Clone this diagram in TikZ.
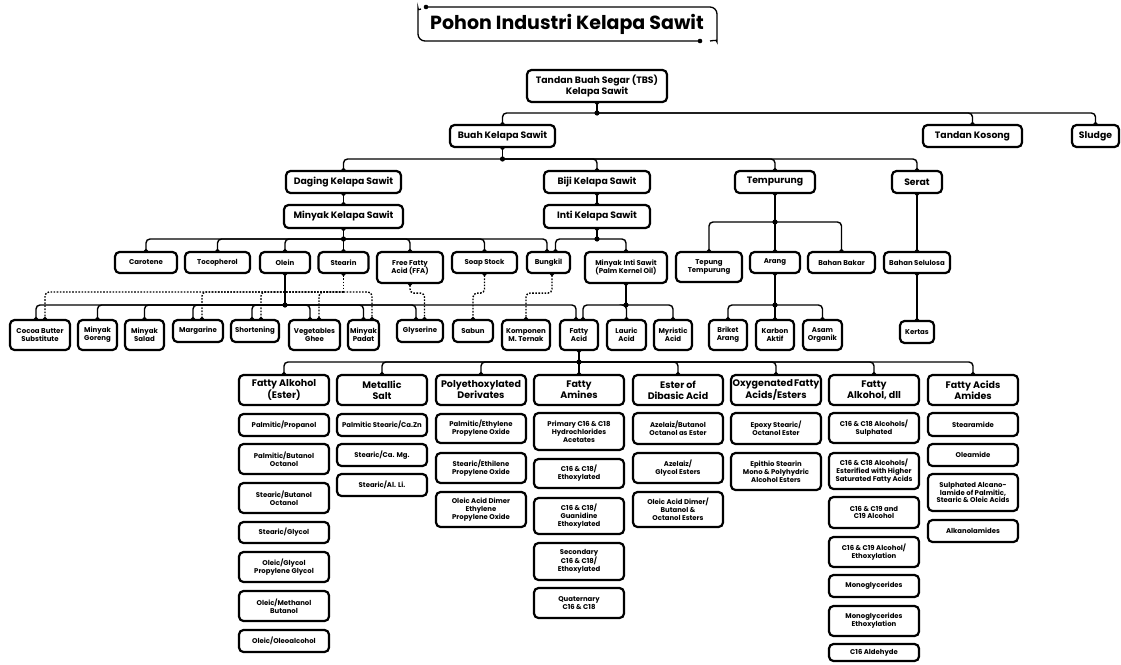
\documentclass[tikz,border=0pt]{standalone}
\usepackage{fontspec}
\setmainfont{Poppins}
\usetikzlibrary{arrows.meta}
% box from corners (x1,y1)-(x2,y2)
\newcommand\bxnode[7][bx]{\node[#1,minimum width={#5-#3},minimum height={#6-#4}] (#2) at ({(#3+#5)/2},{(#4+#6)/2}) {#7};}
\begin{document}
\begin{tikzpicture}[x=1pt,y=-1pt,
  bx/.style={draw=black, line width=2.2pt, rounded corners=4.5pt, fill=white, inner sep=0pt, align=center,
    font=\bfseries\fontsize{9.3}{11}\selectfont},
  sm/.style={bx, font=\bfseries\fontsize{7}{8.3}\selectfont},
  sub/.style={bx, font=\bfseries\fontsize{6.9}{7.8}\selectfont},
  cat/.style={bx, font=\bfseries\fontsize{9.5}{11}\selectfont},
  ln/.style={line width=1.4pt, rounded corners=4pt},
  dl/.style={ln, dash pattern=on 1.6pt off 1.5pt},
  tipE/.style={-{Circle[length=3.6pt]}, shorten >=-1.7pt},
  tipS/.style={{Circle[length=3.6pt]}-, shorten <=-1.7pt},
  tipB/.style={{Circle[length=3.6pt]}-{Circle[length=3.6pt]}, shorten <=-1.7pt, shorten >=-1.7pt},
]
\useasboundingbox (0,0) rectangle (1121,664);

% ---------- title ----------
\node[font=\bfseries\fontsize{19}{21}\selectfont, inner sep=0pt] (title) at (567,24) {Pohon Industri Kelapa Sawit};
\coordinate (tl) at (426,7);
\coordinate (br) at (700,41);
\draw[line width=1.3pt, rounded corners=7pt] (tl) -- (717,7) -- (717,35) .. controls (717,40) .. (710,41);
\draw[line width=1.3pt, rounded corners=7pt] (br) -- (418,41) -- (418,15) .. controls (418,10) .. (421,9);
\fill (tl) circle (2.3pt);
\fill (br) circle (2.3pt);

% ---------- upper levels ----------
\bxnode{tbs}{527}{70}{667}{102}{Tandan Buah Segar (TBS)\\Kelapa Sawit}
\bxnode{buah}{450}{125}{555}{147}{Buah Kelapa Sawit}
\bxnode{tk}{923}{125}{1022}{147}{Tandan Kosong}
\bxnode{sludge}{1072}{125}{1119}{147}{Sludge}
\bxnode{daging}{286}{171}{401}{193}{Daging Kelapa Sawit}
\bxnode{biji}{544}{171}{650}{193}{Biji Kelapa Sawit}
\bxnode{temp}{735}{171}{815}{193}{Tempurung}
\bxnode{serat}{892}{171}{942}{193}{Serat}
\bxnode{mks}{284}{205}{403}{228}{Minyak Kelapa Sawit}
\bxnode{inti}{544}{205}{650}{228}{Inti Kelapa Sawit}

% ---------- products of oil and shell ----------
\bxnode[sm]{carotene}{115}{252}{177}{273}{Carotene}
\bxnode[sm]{toco}{185}{252}{250}{273}{Tocopherol}
\bxnode[sm]{olein}{260}{252}{310}{273}{Olein}
\bxnode[sm]{stearin}{318.5}{252}{368.5}{273}{Stearin}
\bxnode[sm]{ffa}{377}{252}{443}{283}{Free Fatty\\Acid (FFA)}
\bxnode[sm]{soap}{452}{252}{517}{273}{Soap Stock}
\bxnode[sm]{bungkil}{527}{252}{570}{273}{Bungkil}
\bxnode[sm]{mis}{585}{252}{667}{283}{Minyak Inti Sawit\\(Palm Kernel Oil)}
\bxnode[sm]{tepung}{676}{252}{742}{282}{Tepung\\Tempurung}
\bxnode[sm]{arang}{750}{252}{800}{273}{Arang}
\bxnode[sm]{bakar}{808}{252}{875}{273}{Bahan Bakar}
\bxnode[sm]{selulosa}{884}{252}{950}{273}{Bahan Selulosa}

\bxnode[sm]{cbs}{10}{320}{70}{350}{Cocoa Butter\\Substitute}
\bxnode[sm]{goreng}{78}{320}{117}{350}{Minyak\\Goreng}
\bxnode[sm]{salad}{125}{320}{164}{350}{Minyak\\Salad}
\bxnode[sm]{margarine}{173}{320}{223}{342}{Margarine}
\bxnode[sm]{shortening}{231}{320}{279}{342}{Shortening}
\bxnode[sm]{ghee}{289}{320}{340}{350}{Vegetables\\Ghee}
\bxnode[sm]{padat}{348}{320}{379}{350}{Minyak\\Padat}
\bxnode[sm]{glyserine}{397}{320}{443}{342}{Glyserine}
\bxnode[sm]{sabun}{453}{320}{493}{342}{Sabun}
\bxnode[sm]{komponen}{502}{320}{550}{350}{Komponen\\M. Ternak}
\bxnode[sm]{fatty}{560}{320}{598}{350}{Fatty\\Acid}
\bxnode[sm]{lauric}{607}{320}{646}{350}{Lauric\\Acid}
\bxnode[sm]{myristic}{654}{320}{692}{350}{Myristic\\Acid}
\bxnode[sm]{briket}{709}{320}{747}{350}{Briket\\Arang}
\bxnode[sm]{karbon}{756}{320}{794}{350}{Karbon\\Aktif}
\bxnode[sm]{asam}{803}{320}{842}{350}{Asam\\Organik}
\bxnode[sm]{kertas}{900}{321}{934}{343}{Kertas}

% ---------- fatty acid derivatives ----------
\bxnode[cat]{c0}{239}{375}{329}{405}{Fatty Alkohol\\(Ester)}
\bxnode[cat]{c1}{337}{375}{427}{405}{Metallic\\Salt}
\bxnode[cat]{c2}{436}{375}{526}{405}{Polyethoxylated\\Derivates}
\bxnode[cat]{c3}{534}{375}{624}{405}{Fatty\\Amines}
\bxnode[cat]{c4}{633}{375}{723}{405}{Ester of\\Dibasic Acid}
\bxnode[cat]{c5}{731}{375}{821}{405}{Oxygenated\hspace{1pt}Fatty\\Acids/Esters}
\bxnode[cat]{c6}{829}{375}{919}{405}{Fatty\\Alkohol, dll}
\bxnode[cat]{c7}{928}{375}{1018}{405}{Fatty Acids\\Amides}

\bxnode[sub]{a1}{239}{414}{329}{436}{Palmitic/Propanol}
\bxnode[sub]{a2}{239}{444}{329}{474}{Palmitic/Butanol\\Octanol}
\bxnode[sub]{a3}{239}{483}{329}{513}{Stearic/Butanol\\Octanol}
\bxnode[sub]{a4}{239}{522}{329}{543}{Stearic/Glycol}
\bxnode[sub]{a5}{239}{552}{329}{582}{Oleic/Glycol\\Propylene Glycol}
\bxnode[sub]{a6}{239}{591}{329}{621}{Oleic/Methanol\\Butanol}
\bxnode[sub]{a7}{239}{630}{329}{652}{Oleic/Oleoalcohol}

\bxnode[sub]{b1}{337}{414}{427}{436}{Palmitic Stearic/Ca.Zn}
\bxnode[sub]{b2}{337}{444}{427}{466}{Stearic/Ca. Mg.}
\bxnode[sub]{b3}{337}{474}{427}{496}{Stearic/Al. Li.}

\bxnode[sub]{p1}{436}{414}{526}{443}{Palmitic/Ethylene\\Propylene Oxide}
\bxnode[sub]{p2}{436}{453}{526}{483}{Stearic/Ethilene\\Propylene Oxide}
\bxnode[sub]{p3}{436}{492}{526}{527}{Oleic Acid Dimer\\Ethylene\\Propylene Oxide}

\bxnode[sub]{m1}{534}{413}{624}{450}{Primary C16 \& C18\\Hydrochlorides\\Acetates}
\bxnode[sub]{m2}{534}{459}{624}{488}{C16 \& C18/\\Ethoxylated}
\bxnode[sub]{m3}{534}{498}{624}{534}{C16 \& C18/\\Guanidine\\Ethoxylated}
\bxnode[sub]{m4}{534}{543}{624}{580}{Secondary\\C16 \& C18/\\Ethoxylated}
\bxnode[sub]{m5}{534}{588}{624}{618}{Quaternary\\C16 \& C18}

\bxnode[sub]{d1}{633}{413}{723}{444}{Azelaiz/Butanol\\Octanol as Ester}
\bxnode[sub]{d2}{633}{453}{723}{483}{Azelaiz/\\Glycol Esters}
\bxnode[sub]{d3}{633}{492}{723}{527}{Oleic Acid Dimer/\\Butanol \&\\Octanol Esters}

\bxnode[sub]{o1}{731}{413}{821}{444}{Epoxy Stearic/\\Octanol Ester}
\bxnode[sub]{o2}{731}{453}{821}{490}{Epithio Stearin\\Mono \& Polyhydric\\Alcohol Esters}

\bxnode[sub]{f1}{829}{413}{919}{443}{C16 \& C18 Alcohols/\\Sulphated}
\bxnode[sub]{f2}{829}{453}{919}{489}{C16 \& C18 Alcohols/\\Esterified with Higher\\Saturated Fatty Acids}
\bxnode[sub]{f3}{829}{497}{919}{528}{C16 \& C19 and\\C19 Alcohol}
\bxnode[sub]{f4}{829}{537}{919}{567}{C16 \& C19 Alcohol/\\Ethoxylation}
\bxnode[sub]{f5}{829}{575}{919}{597}{Monoglycerides}
\bxnode[sub]{f6}{829}{606}{919}{636}{Monoglycerides\\Ethoxylation}
\bxnode[sub]{f7}{829}{644}{919}{661}{C16 Aldehyde}

\bxnode[sub]{s1}{928}{413}{1018}{436}{Stearamide}
\bxnode[sub]{s2}{928}{444}{1018}{466}{Oleamide}
\bxnode[sub]{s3}{928}{474}{1018}{511}{Sulphated Alcano-\\lamide of Palmitic,\\Stearic \& Oleic Acids}
\bxnode[sub]{s4}{928}{520}{1018}{542}{Alkanolamides}

% ---------- junctions ----------
\coordinate (j0) at (597,113);
\coordinate (j1) at (502.5,159);
\coordinate (j2) at (343.5,239);
\coordinate (j3) at (597,239);
\coordinate (j4) at (285,305);
\coordinate (j5) at (343.5,292);
\coordinate (j6) at (626,305);
\coordinate (j7) at (775,222);
\coordinate (j8) at (775,305);
\coordinate (j9) at (579,362);

% ---------- solid connectors ----------
\draw[ln,tipS] (tbs.south) -- (j0);
\foreach \t in {buah,tk,sludge} \draw[ln,tipE] (j0) -| (\t.north);
\draw[ln,tipS] (buah.south) -- (j1);
\foreach \t in {daging,biji,temp,serat} \draw[ln,tipE] (j1) -| (\t.north);
\draw[ln,tipB] (daging.south) -- (mks.north);
\draw[ln,tipB] (biji.south) -- (inti.north);

\draw[ln,tipS] (mks.south) -- (j2);
\foreach \t in {carotene,toco,olein,stearin,ffa,soap} \draw[ln,tipE] (j2) -| (\t.north);
\draw[ln,tipE] (j2) -| ([xshift=-1.5pt]bungkil.north);
\draw[ln,tipS] (inti.south) -- (j3);
\draw[ln,tipE] (j3) -| ([xshift=7pt]bungkil.north);
\draw[ln,tipE] (j3) -| (mis.north);

\draw[ln,tipS] (olein.south) -- (j4);
\draw[ln,tipE] (j4) -| ([xshift=-4pt]cbs.north);
\draw[ln,tipE] (j4) -| (goreng.north);
\draw[ln,tipE] (j4) -| (salad.north);
\draw[ln,tipE] (j4) -| ([xshift=-5pt]margarine.north);
\draw[ln,tipE] (j4) -| ([xshift=-3pt]shortening.north);
\draw[ln,tipE] (j4) -| ([xshift=-4.5pt]ghee.north);
\draw[ln,tipE] (j4) -| (padat.north);
\draw[ln,tipE] (j4) -| ([xshift=-4pt]glyserine.north);
\draw[ln,tipE] (j4) -| ([xshift=-3pt]fatty.north);

\draw[ln,tipS] (mis.south) -- (j6);
\draw[ln,tipE] (j6) -| ([xshift=4pt]fatty.north);
\draw[ln,tipE] (j6) -| (lauric.north);
\draw[ln,tipE] (j6) -| (myristic.north);

\draw[ln,tipS] (temp.south) -- (j7);
\foreach \t in {tepung,arang,bakar} \draw[ln,tipE] (j7) -| (\t.north);
\draw[ln,tipB] (serat.south) -- (selulosa.north);
\draw[ln,tipS] (arang.south) -- (j8);
\foreach \t in {briket,karbon,asam} \draw[ln,tipE] (j8) -| (\t.north);
\draw[ln,tipB] (selulosa.south) -- (kertas.north);

\draw[ln,tipS] (fatty.south) -- (j9);
\foreach \t in {c0,c1,c2,c3,c4,c5,c6,c7} \draw[ln,tipE] (j9) -| (\t.north);

% ---------- dotted connectors ----------
\draw[dl,tipS] (stearin.south) -- (j5);
\draw[dl,tipE] (j5) -| ([xshift=5pt]cbs.north);
\draw[dl,tipE] (j5) -| ([xshift=4pt]margarine.north);
\draw[dl,tipE] (j5) -| ([xshift=6pt]shortening.north);
\draw[dl,tipE] (j5) -| ([xshift=4.5pt]ghee.north);
\draw[dl,tipE] (j5) -| ([xshift=8.5pt]padat.north);
\draw[dl,tipB] (ffa.south) -- ++(0,9) -| ([xshift=4.5pt]glyserine.north);
\draw[dl,tipB] (soap.south) -- ++(0,19) -| (sabun.north);
\draw[dl,tipB] ([xshift=3.5pt]bungkil.south) -- ++(0,19) -| (komponen.north);

% ---------- junction dots ----------
\foreach \j in {j0,j1,j2,j3,j4,j6,j7,j8,j9} \fill (\j) circle (2.6pt);
\end{tikzpicture}
\end{document}
